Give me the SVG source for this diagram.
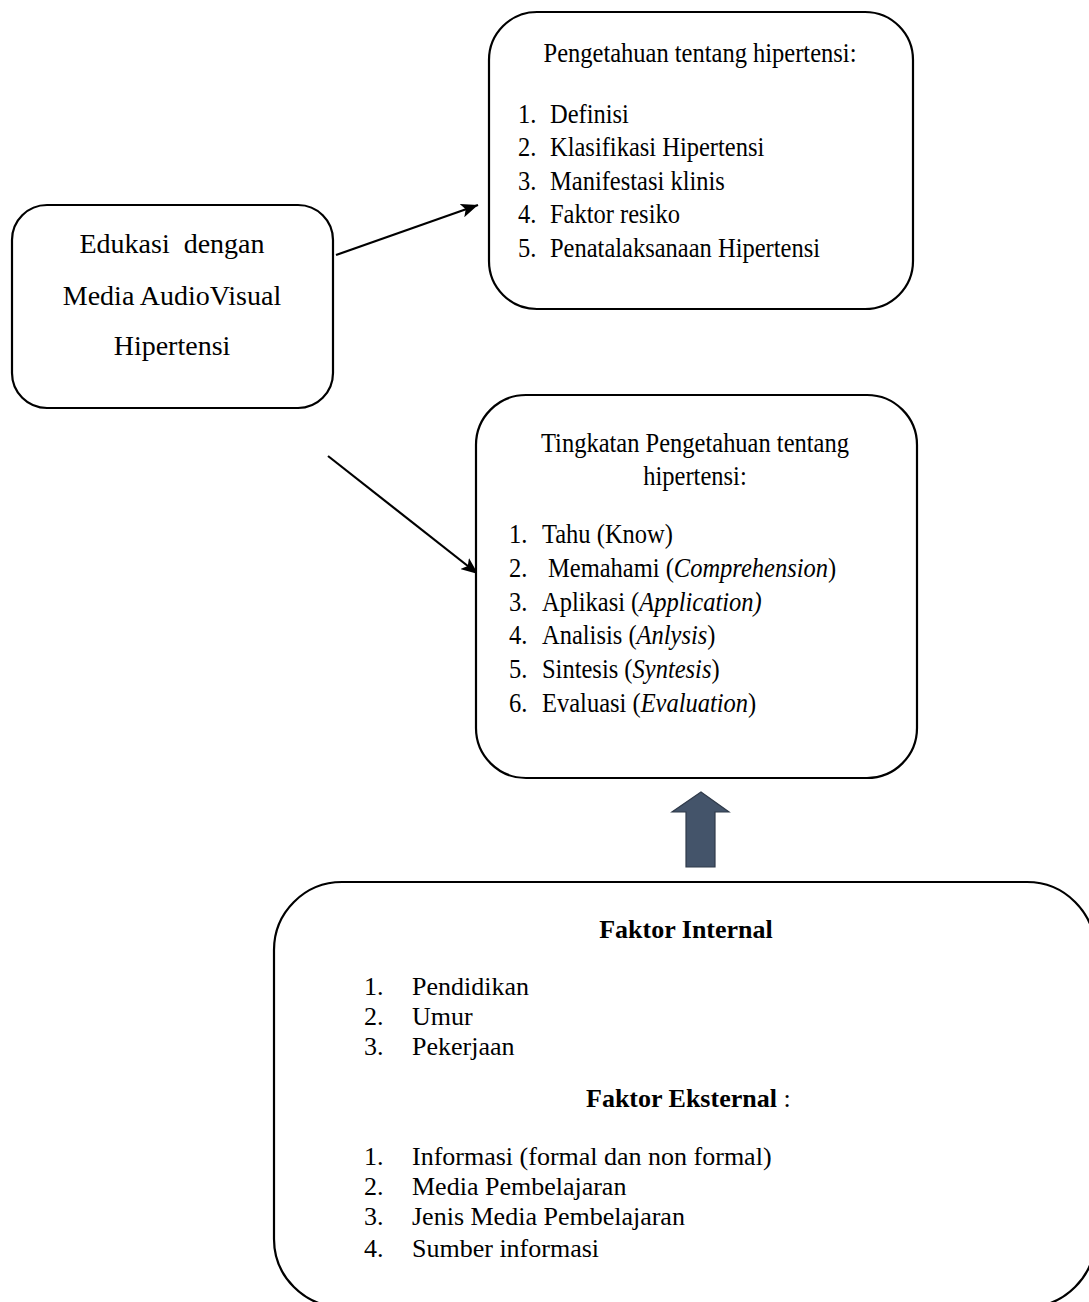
<svg xmlns="http://www.w3.org/2000/svg" width="1089" height="1302" viewBox="0 0 1089 1302">
<style>
.box{fill:#fff;stroke:#000;stroke-width:2.2}
.t{font-family:"Liberation Serif","Times New Roman",serif;fill:#000}
.m{font-size:24.5px}
.l{font-size:28px}
.b{font-size:26px}
.bold{font-weight:bold}
.conn{stroke:#000;stroke-width:2.2;fill:none}
</style>
<defs>
<marker id="ah" markerUnits="userSpaceOnUse" markerWidth="18" markerHeight="14" refX="17" refY="7" orient="auto">
<path d="M0,0 L17,7 L0,14 L4,7 Z" fill="#000"/>
</marker>
</defs>
<rect width="1089" height="1302" fill="#fff"/>
<g id="connectors">
<line class="conn" x1="336" y1="255" x2="478" y2="205" marker-end="url(#ah)"/>
<line class="conn" x1="328" y1="456" x2="478" y2="574" marker-end="url(#ah)"/>
<polygon points="701,792 729,812 715,812 715,867 686,867 686,812 672,812" fill="#44546A" stroke="#2F3A4A" stroke-width="1.2"/>
</g>
<g id="node-edukasi">
<rect class="box" x="12" y="205" width="321" height="203" rx="35"/>
<text class="t l" x="172" y="253" text-anchor="middle" xml:space="preserve">Edukasi  dengan</text>
<text class="t l" x="172" y="305" text-anchor="middle">Media AudioVisual</text>
<text class="t l" x="172" y="355" text-anchor="middle">Hipertensi</text>
</g>
<g id="node-pengetahuan">
<rect class="box" x="489" y="12" width="424" height="297" rx="48"/>
<text class="t m" x="700" y="62" text-anchor="middle" transform="matrix(1 0 0 1.14 0 -8.68)">Pengetahuan tentang hipertensi:</text>
<text class="t m" x="518" y="123" transform="matrix(1 0 0 1.14 0 -17.22)">1.</text>
<text class="t m" x="550" y="123" transform="matrix(1 0 0 1.14 0 -17.22)">Definisi</text>
<text class="t m" x="518" y="156.5" transform="matrix(1 0 0 1.14 0 -21.91)">2.</text>
<text class="t m" x="550" y="156.5" transform="matrix(1 0 0 1.14 0 -21.91)">Klasifikasi Hipertensi</text>
<text class="t m" x="518" y="190" transform="matrix(1 0 0 1.14 0 -26.6)">3.</text>
<text class="t m" x="550" y="190" transform="matrix(1 0 0 1.14 0 -26.6)">Manifestasi klinis</text>
<text class="t m" x="518" y="223.5" transform="matrix(1 0 0 1.14 0 -31.29)">4.</text>
<text class="t m" x="550" y="223.5" transform="matrix(1 0 0 1.14 0 -31.29)">Faktor resiko</text>
<text class="t m" x="518" y="257" transform="matrix(1 0 0 1.14 0 -35.98)">5.</text>
<text class="t m" x="550" y="257" transform="matrix(1 0 0 1.14 0 -35.98)">Penatalaksanaan Hipertensi</text>
</g>
<g id="node-tingkatan">
<rect class="box" x="476" y="395" width="441" height="383" rx="50"/>
<text class="t m" x="695" y="452" text-anchor="middle" transform="matrix(1 0 0 1.14 0 -63.28)">Tingkatan Pengetahuan tentang</text>
<text class="t m" x="695" y="485" text-anchor="middle" transform="matrix(1 0 0 1.14 0 -67.9)">hipertensi:</text>
<text class="t m" x="509" y="543" transform="matrix(1 0 0 1.14 0 -76.02)">1.</text>
<text class="t m" x="542" y="543" transform="matrix(1 0 0 1.14 0 -76.02)">Tahu (Know)</text>
<text class="t m" x="509" y="577" transform="matrix(1 0 0 1.14 0 -80.78)">2.</text>
<text class="t m" x="548" y="577" transform="matrix(1 0 0 1.14 0 -80.78)">Memahami (<tspan font-style="italic">Comprehension</tspan>)</text>
<text class="t m" x="509" y="611" transform="matrix(1 0 0 1.14 0 -85.54)">3.</text>
<text class="t m" x="542" y="611" transform="matrix(1 0 0 1.14 0 -85.54)">Aplikasi (<tspan font-style="italic">Application)</tspan></text>
<text class="t m" x="509" y="644" transform="matrix(1 0 0 1.14 0 -90.16)">4.</text>
<text class="t m" x="542" y="644" transform="matrix(1 0 0 1.14 0 -90.16)">Analisis (<tspan font-style="italic">Anlysis</tspan>)</text>
<text class="t m" x="509" y="678" transform="matrix(1 0 0 1.14 0 -94.92)">5.</text>
<text class="t m" x="542" y="678" transform="matrix(1 0 0 1.14 0 -94.92)">Sintesis (<tspan font-style="italic">Syntesis</tspan>)</text>
<text class="t m" x="509" y="712" transform="matrix(1 0 0 1.14 0 -99.68)">6.</text>
<text class="t m" x="542" y="712" transform="matrix(1 0 0 1.14 0 -99.68)">Evaluasi (<tspan font-style="italic">Evaluation</tspan>)</text>
</g>
<g id="node-faktor">
<rect class="box" x="274" y="882" width="821" height="425" rx="68"/>
<text class="t b bold" x="686" y="938" text-anchor="middle">Faktor Internal</text>
<text class="t b" x="364" y="995">1.</text>
<text class="t b" x="412" y="995">Pendidikan</text>
<text class="t b" x="364" y="1025">2.</text>
<text class="t b" x="412" y="1025">Umur</text>
<text class="t b" x="364" y="1055">3.</text>
<text class="t b" x="412" y="1055">Pekerjaan</text>
<text class="t b" x="586" y="1107"><tspan font-weight="bold">Faktor Eksternal</tspan> :</text>
<text class="t b" x="364" y="1165">1.</text>
<text class="t b" x="412" y="1165">Informasi (formal dan non formal)</text>
<text class="t b" x="364" y="1195">2.</text>
<text class="t b" x="412" y="1195">Media Pembelajaran</text>
<text class="t b" x="364" y="1225">3.</text>
<text class="t b" x="412" y="1225">Jenis Media Pembelajaran</text>
<text class="t b" x="364" y="1257">4.</text>
<text class="t b" x="412" y="1257">Sumber informasi</text>
</g>
</svg>
